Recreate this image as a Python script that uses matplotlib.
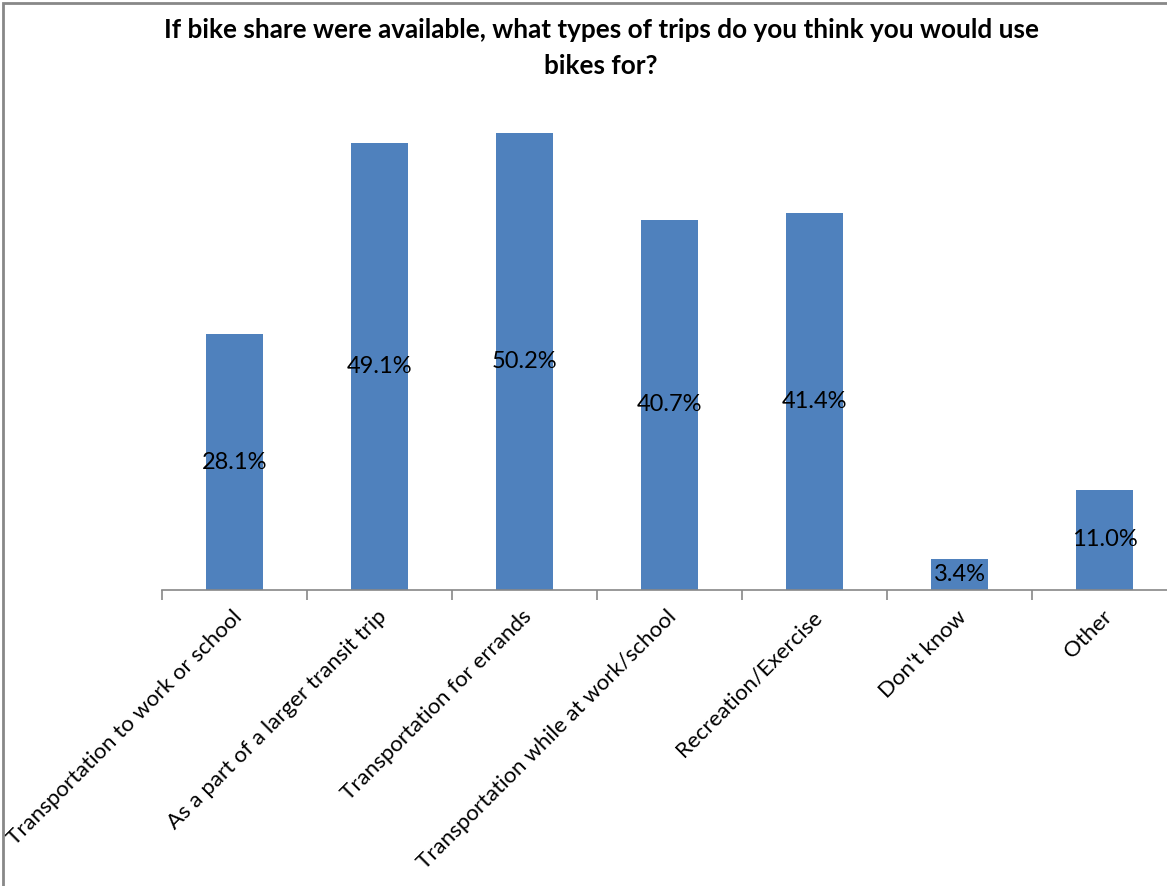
import matplotlib.pyplot as plt
from matplotlib.patches import Rectangle

categories = ["Transportation to work or school",
              "As a part of a larger transit trip",
              "Transportation for errands",
              "Transportation while at work/school",
              "Recreation/Exercise",
              "Don't know",
              "Other"]
values = [28.1, 49.1, 50.2, 40.7, 41.4, 3.4, 11.0]

plt.rcParams['font.family'] = ['Lato', 'DejaVu Sans']

W, H = 1167, 886
fig = plt.figure(figsize=(W / 100, H / 100), dpi=100)

# axes: baseline at y=590 px, 145 px per category, ~9.1 px per percent
ymax = 55
left, base, step, ppu = 162, 590, 145, 9.1
ax = fig.add_axes([left / W, (H - base) / H, 7 * step / W, ymax * ppu / H])

x = range(len(categories))
bars = ax.bar(x, values, width=0.39, color="#4F81BD")
for b, v in zip(bars, values):
    ax.text(b.get_x() + b.get_width() / 2, v / 2, f"{v:.1f}%",
            ha="center", va="center", fontsize=17, color="black")

ax.set_xlim(-0.5, len(categories) - 0.5)
ax.set_ylim(0, ymax)
ax.set_yticks([])
for s in ["top", "right", "left"]:
    ax.spines[s].set_visible(False)
ax.spines["bottom"].set_color("#888888")
ax.spines["bottom"].set_linewidth(1.2)

ax.set_xticks([i - 0.5 for i in range(len(categories) + 1)], minor=False)
ax.set_xticklabels([])
ax.tick_params(axis="x", length=7, color="#888888", width=1.2)
for i, c in enumerate(categories):
    ax.annotate(c, xy=(i, 0), xycoords="data", xytext=(3, -17),
                textcoords="offset points", rotation=45,
                rotation_mode="anchor", ha="right", va="center",
                fontsize=16, annotation_clip=False)

fig.text(601 / W, 1 - 48 / H,
         "If bike share were available, what types of trips do you think you would use\nbikes for?",
         ha="center", va="center", fontsize=18.8, fontweight="bold",
         linespacing=1.55)

# chart border
fig.patches.append(Rectangle((3 / W, -0.01), 1.02, 1 - 3 / H + 0.01,
                             transform=fig.transFigure, fill=False,
                             edgecolor="#888888", linewidth=2))

fig.savefig("out.png", dpi=100)
